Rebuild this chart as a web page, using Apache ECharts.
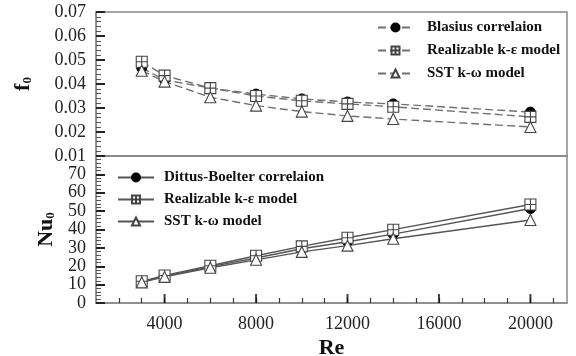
<!DOCTYPE html>
<html><head><meta charset="utf-8">
<script src="https://cdn.jsdelivr.net/npm/echarts@6/dist/echarts.min.js"></script>
<style>html,body{margin:0;padding:0;background:#fff}#c{width:576px;height:356px}</style>
</head><body><div id="c"></div>
<script>
const re = [3000, 4000, 6000, 8000, 10000, 12000, 14000, 20000];
const fBlasius = [0.0467, 0.0417, 0.0383, 0.0358, 0.0338, 0.0325, 0.0317, 0.0283];
const fRealizable = [0.0493, 0.0435, 0.0383, 0.0350, 0.0330, 0.0317, 0.0305, 0.0263];
const fSST = [0.0455, 0.0410, 0.0345, 0.0310, 0.0285, 0.0267, 0.0254, 0.0221];
const nuDittus = [11.5, 14.5, 19.8, 24.5, 29.5, 33.3, 37.5, 51.4];
const nuRealizable = [11.8, 15.0, 20.3, 25.7, 30.8, 35.5, 39.9, 53.6];
const nuSST = [11.2, 14.2, 19.2, 23.5, 27.8, 31.2, 35.0, 45.2];
const xLabels = [4000, 8000, 12000, 16000, 20000];
const topNames = ['Blasius correlaion', 'Realizable k-ε model', 'SST k-ω model'];
const botNames = ['Dittus-Boelter correlaion', 'Realizable k-ε model', 'SST k-ω model'];

const pairs = (ys) => re.map((x, i) => [x, ys[i]]);
const FONT = '"Liberation Serif", "Times New Roman", serif';
const squarePlus = 'path://M0,0H10V10H0Z M5,0V10 M0,5H10';
// internal ids so that the two legends do not share series with equal labels
const topIds = topNames.map(n => 'T|' + n);
const botIds = botNames.map(n => 'B|' + n);
const stripId = (n) => n.slice(2);

function ser(name, data, xi, yi, kind, dashed) {
  const sym = kind === 0 ? 'circle' : (kind === 1 ? squarePlus : 'triangle');
  return {
    type: 'line', name, data, xAxisIndex: xi, yAxisIndex: yi,
    symbol: sym, symbolSize: kind === 0 ? 10 : 11,
    showAllSymbol: true,
    lineStyle: { color: dashed ? '#707070' : '#555', width: 1.4, type: dashed ? [8, 4] : 'solid' },
    itemStyle: kind === 0 ? { color: '#000', borderColor: '#000', borderWidth: 1 }
                          : { color: '#fff', borderColor: '#444', borderWidth: 1.1 },
    emphasis: { disabled: true }, animation: false
  };
}

const xBase = (gi, showLabels) => ({
  type: 'value', gridIndex: gi, min: 1000, max: 21600, interval: 1000,
  axisLine: { show: true, lineStyle: { color: '#888', width: 1.5 } },
  axisTick: { show: showLabels, inside: true, length: 5, lineStyle: { color: '#333', width: 1.2 } },
  axisLabel: { show: showLabels, margin: 12, color: '#222', fontFamily: FONT, fontSize: 18,
    showMinLabel: false, showMaxLabel: false,
    formatter: v => (xLabels.indexOf(Math.round(v)) >= 0 ? String(Math.round(v)) : '') },
  splitLine: { show: false }
});

const legendText = { fontFamily: FONT, fontWeight: 'bold', fontSize: 15, color: '#111' };

const option = {
  backgroundColor: '#fff',
  animation: false,
  grid: [
    { left: 96, right: 9, top: 12, height: 144, show: true, borderColor: '#888', borderWidth: 1.5, outerBoundsMode: 'none', containLabel: false },
    { left: 96, right: 9, top: 156, height: 147, show: true, borderColor: '#888', borderWidth: 1.5, outerBoundsMode: 'none', containLabel: false }
  ],
  legend: [
    { data: topIds, formatter: stripId, orient: 'vertical', left: 377, top: 20, padding: 0,
      itemWidth: 35, itemHeight: 10, itemGap: 8,
      textStyle: Object.assign({ padding: [0, 0, 0, 9] }, legendText), selectedMode: false },
    { data: botIds, formatter: stripId, orient: 'vertical', left: 117, top: 170, padding: 0,
      itemWidth: 36, itemHeight: 10, itemGap: 7,
      textStyle: Object.assign({ padding: [0, 0, 0, 5] }, legendText), selectedMode: false }
  ],
  xAxis: [
    xBase(0, false),
    Object.assign(xBase(1, true), { name: 'Re', nameLocation: 'middle', nameGap: 34,
      nameTextStyle: { fontFamily: FONT, fontWeight: 'bold', fontSize: 22, color: '#111' } })
  ],
  yAxis: [
    { type: 'value', gridIndex: 0, min: 0.01, max: 0.07, interval: 0.01,
      name: 'f{s|0}', nameLocation: 'middle', nameGap: 62,
      nameTextStyle: { fontFamily: FONT, fontWeight: 'bold', fontSize: 22, color: '#111',
        rich: { s: { fontFamily: FONT, fontWeight: 'bold', fontSize: 13, verticalAlign: 'bottom', padding: [8, 0, 0, 0], color: '#111' } } },
      axisLine: { show: true, lineStyle: { color: '#888', width: 1.5 } },
      axisTick: { show: true, inside: true, length: 9, lineStyle: { color: '#222', width: 2 } },
      minorTick: { show: true, splitNumber: 5, length: 5, lineStyle: { color: '#555', width: 1 } },
      axisLabel: { margin: 10, color: '#222', fontFamily: FONT, fontSize: 18, formatter: v => v.toFixed(2) },
      splitLine: { show: false }, minorSplitLine: { show: false } },
    { type: 'value', gridIndex: 1, min: 0, max: 80, interval: 10,
      name: 'Nu{s|0}', nameLocation: 'middle', nameGap: 38,
      nameTextStyle: { fontFamily: FONT, fontWeight: 'bold', fontSize: 22, color: '#111',
        rich: { s: { fontFamily: FONT, fontWeight: 'bold', fontSize: 13, verticalAlign: 'bottom', padding: [8, 0, 0, 0], color: '#111' } } },
      axisLine: { show: true, lineStyle: { color: '#888', width: 1.5 } },
      axisTick: { show: true, inside: true, length: 9, lineStyle: { color: '#222', width: 2 } },
      minorTick: { show: true, splitNumber: 5, length: 5, lineStyle: { color: '#555', width: 1 } },
      axisLabel: { margin: 10, color: '#222', fontFamily: FONT, fontSize: 18, showMaxLabel: false, showMinLabel: true },
      splitLine: { show: false }, minorSplitLine: { show: false } }
  ],
  series: [
    ser(topIds[0], pairs(fBlasius), 0, 0, 0, true),
    ser(topIds[1], pairs(fRealizable), 0, 0, 1, true),
    ser(topIds[2], pairs(fSST), 0, 0, 2, true),
    ser(botIds[0], pairs(nuDittus), 1, 1, 0, false),
    ser(botIds[1], pairs(nuRealizable), 1, 1, 1, false),
    ser(botIds[2], pairs(nuSST), 1, 1, 2, false),
    { // longer major ticks at the labelled Re values
      type: 'scatter', name: 'majorTicks', xAxisIndex: 1, yAxisIndex: 1,
      data: xLabels.map(v => [v, 0]), symbol: 'rect', symbolSize: [2, 9], symbolOffset: [0, -4.5],
      itemStyle: { color: '#111' }, silent: true, clip: false, z: 5, animation: false
    }
  ]
};
const chart = echarts.init(document.getElementById('c'), null, { renderer: 'canvas' });
chart.setOption(option);
</script>
</body></html>
